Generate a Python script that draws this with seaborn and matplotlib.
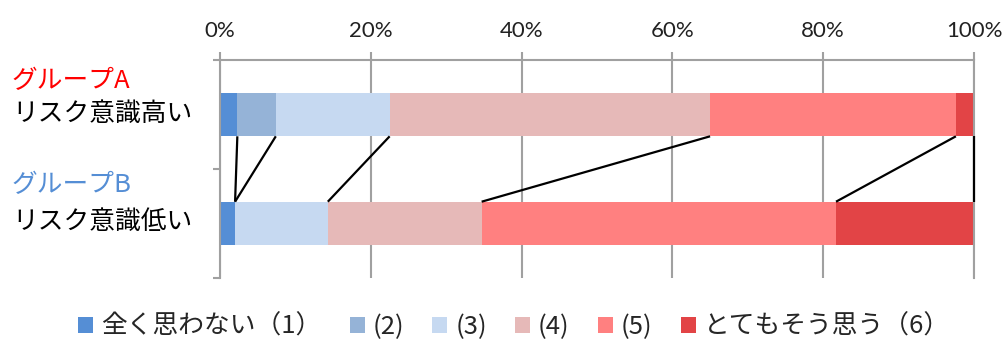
import matplotlib
matplotlib.use("Agg")
import matplotlib.pyplot as plt
import numpy as np
import pandas as pd
import seaborn as sns
from matplotlib.patches import Patch

# Survey shares (%) per answer level for each group
groups = ["グループA", "グループB"]
group_notes = ["リスク意識高い", "リスク意識低い"]
group_colors = ["#FF0000", "#558ED5"]
levels = ["全く思わない（1）", "(2)", "(3)", "(4)", "(5)", "とてもそう思う（6）"]
level_colors = ["#558ED5", "#95B3D7", "#C6D9F1", "#E6B9B8", "#FF8080", "#E24446"]
share_a = [2.3, 5.1, 15.1, 42.5, 32.6, 2.4]
share_b = [2.0, 0.0, 12.3, 20.4, 47.0, 18.3]
x_ticks = [0, 20, 40, 60, 80, 100]

sns.set_style("white")
plt.rcParams["font.family"] = ["Noto Sans CJK JP", "DejaVu Sans"]

W, H = 1007, 344
fig = plt.figure(figsize=(W / 100, H / 100), dpi=100)
ax = fig.add_axes([220 / W, 1 - 278 / H, 754 / W, 218 / H])

shares = pd.DataFrame([share_a, share_b], index=groups, columns=levels)
cum = shares.cumsum(axis=1)

# Stacked bars: paint cumulative totals from the widest layer down
bar_w = 0.4
for i in range(len(levels) - 1, -1, -1):
    layer = pd.DataFrame({"group": groups, "value": cum.iloc[:, i].values})
    sns.barplot(data=layer, x="value", y="group", orient="h", order=groups,
                color=level_colors[i], saturation=1, width=bar_w,
                linewidth=0, ax=ax, zorder=2)

# Connector lines between matching segment boundaries
for a, b in zip(cum.iloc[0].values, cum.iloc[1].values):
    ax.plot([a, b], [bar_w / 2, 1 - bar_w / 2], color="black", lw=1.6,
            solid_capstyle="butt", zorder=3, clip_on=False)

grey = "#A0A0A0"
ax.set_xlim(0, 100)
ax.set_ylim(1.5, -0.5)
ax.xaxis.tick_top()
ax.set_xticks(x_ticks)
ax.set_xticklabels([f"{t}%" for t in x_ticks], family=["Lato", "DejaVu Sans"],
                   fontsize=16, color="#222222")
ax.tick_params(axis="x", direction="out", length=6, width=1.5, color=grey, pad=8)
ax.set_yticks([-0.5, 0.5, 1.5])
ax.set_yticklabels([])
ax.tick_params(axis="y", direction="out", length=5, width=1.5, color=grey, left=True)
ax.set_xlabel("")
ax.set_ylabel("")
ax.grid(axis="x", color=grey, lw=1.5, zorder=0)
ax.grid(axis="y", visible=False)
ax.set_axisbelow(True)
for side in ["top", "left", "right"]:
    ax.spines[side].set_visible(True)
    ax.spines[side].set_color(grey)
    ax.spines[side].set_linewidth(1.5)
ax.spines["bottom"].set_visible(False)

# Two-line category labels
label_rows = [(81, 114), (185, 222)]
for (gy, ny), g, note, c in zip(label_rows, groups, group_notes, group_colors):
    fig.text(12 / W, 1 - gy / H, g, color=c, fontsize=18.5, va="center", ha="left")
    fig.text(12 / W, 1 - ny / H, note, color="black", fontsize=18.5, va="center", ha="left")

handles = [Patch(facecolor=c, edgecolor="none") for c in level_colors]
fig.legend(handles, levels, loc="center", bbox_to_anchor=(514 / W, 1 - 327 / H),
           ncol=6, frameon=False, fontsize=18.5, handlelength=0.58, handleheight=0.58,
           handletextpad=0.31, columnspacing=1.1, borderpad=0, borderaxespad=0)

fig.savefig("out.png", dpi=100)
